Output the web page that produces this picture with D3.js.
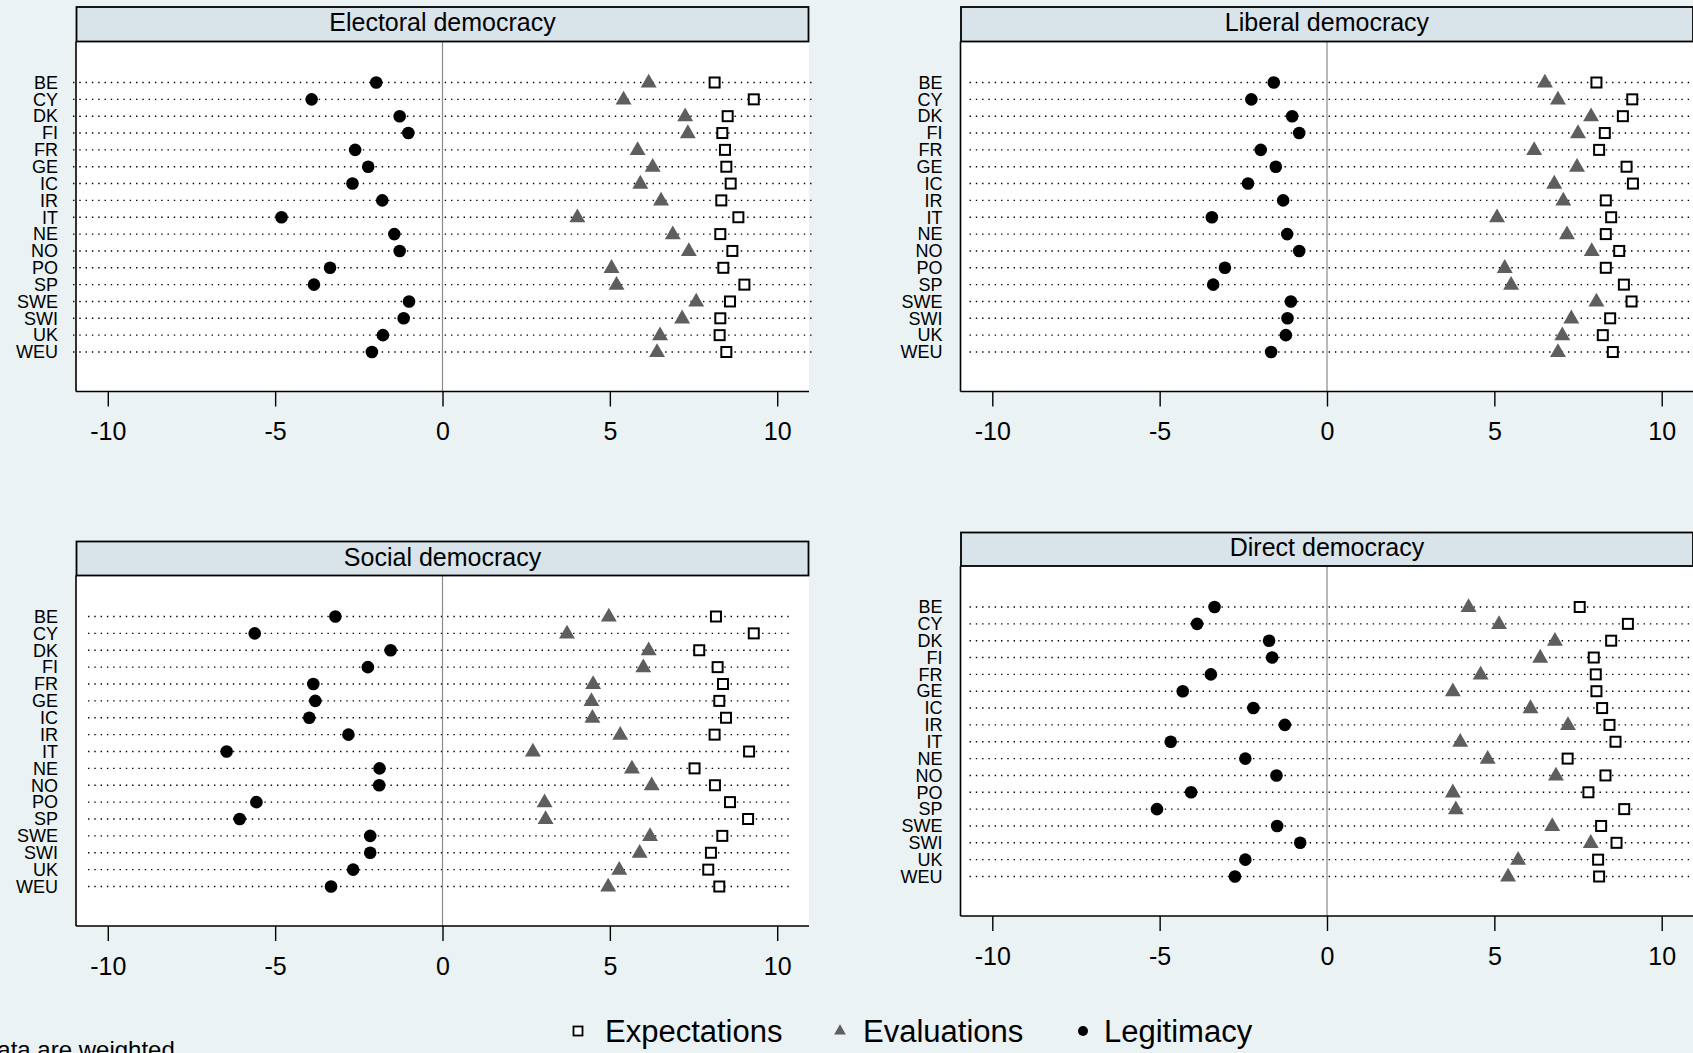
<!DOCTYPE html>
<html>
<head>
<meta charset="utf-8">
<script src="https://cdn.jsdelivr.net/npm/d3@7"></script>
<style>
  html, body { margin: 0; padding: 0; background: #EAF2F3; overflow: hidden; }
  svg { display: block; }
  text { font-family: "Liberation Sans", Arial, Helvetica, sans-serif; fill: #000; }
</style>
</head>
<body>
<svg id="chart" width="1693" height="1053"></svg>
<script>
// ---------------- DATA ----------------
const countries = ["BE","CY","DK","FI","FR","GE","IC","IR","IT","NE","NO","PO","SP","SWE","SWI","UK","WEU"];
const panelTitles = ["Electoral democracy","Liberal democracy","Social democracy","Direct democracy"];
const seriesNames = ["Expectations","Evaluations","Legitimacy"];
const xTickValues = [-10, -5, 0, 5, 10];

const electoralExpectations = [8.13,9.30,8.52,8.36,8.44,8.48,8.61,8.33,8.84,8.30,8.66,8.39,9.02,8.59,8.30,8.28,8.48];
const electoralEvaluations  = [6.16,5.41,7.25,7.33,5.83,6.28,5.91,6.53,4.03,6.88,7.36,5.05,5.20,7.58,7.16,6.50,6.41];
const electoralLegitimacy   = [-1.98,-3.91,-1.28,-1.02,-2.61,-2.22,-2.69,-1.80,-4.81,-1.44,-1.28,-3.36,-3.84,-1.00,-1.16,-1.78,-2.11];

const liberalExpectations = [8.05,9.12,8.84,8.30,8.13,8.95,9.14,8.33,8.49,8.33,8.73,8.33,8.87,9.10,8.46,8.24,8.54];
const liberalEvaluations  = [6.51,6.90,7.89,7.50,6.19,7.47,6.79,7.06,5.08,7.17,7.91,5.31,5.50,8.05,7.30,7.03,6.90];
const liberalLegitimacy   = [-1.59,-2.26,-1.04,-0.83,-1.98,-1.53,-2.36,-1.31,-3.44,-1.19,-0.83,-3.05,-3.40,-1.08,-1.18,-1.23,-1.67];

const socialExpectations = [8.17,9.30,7.67,8.22,8.38,8.27,8.47,8.13,9.16,7.53,8.14,8.59,9.13,8.36,8.02,7.94,8.27];
const socialEvaluations  = [4.97,3.72,6.16,6.00,4.50,4.45,4.48,5.31,2.70,5.66,6.25,3.05,3.08,6.20,5.89,5.28,4.95];
const socialLegitimacy   = [-3.20,-5.61,-1.55,-2.23,-3.86,-3.80,-3.98,-2.81,-6.45,-1.88,-1.89,-5.56,-6.06,-2.16,-2.16,-2.67,-3.33];

const directExpectations = [7.55,8.99,8.49,7.97,8.03,8.05,8.22,8.44,8.62,7.19,8.32,7.81,8.88,8.19,8.65,8.10,8.13];
const directEvaluations  = [4.23,5.14,6.81,6.37,4.59,3.76,6.08,7.20,3.98,4.80,6.84,3.76,3.85,6.73,7.88,5.71,5.41];
const directLegitimacy   = [-3.36,-3.88,-1.73,-1.64,-3.47,-4.31,-2.20,-1.26,-4.67,-2.44,-1.51,-4.06,-5.08,-1.49,-0.80,-2.44,-2.75];

const noteText = "Data are weighted";

// ---------------- LAYOUT ----------------
const panelData = [
  [electoralExpectations, electoralEvaluations, electoralLegitimacy],
  [liberalExpectations, liberalEvaluations, liberalLegitimacy],
  [socialExpectations, socialEvaluations, socialLegitimacy],
  [directExpectations, directEvaluations, directLegitimacy]
];
const panelLayout = [
  { left: 76,    titleTop: 7,     titleBottom: 41.5,  bottom: 391.5, lineFrom: 73,    lineTo: 812 },
  { left: 960.5, titleTop: 7,     titleBottom: 41.5,  bottom: 391.5, lineFrom: 969.5, lineTo: 1693 },
  { left: 76,    titleTop: 541.5, titleBottom: 575.5, bottom: 926,   lineFrom: 88,    lineTo: 790 },
  { left: 960.5, titleTop: 532.5, titleBottom: 566,   bottom: 916,   lineFrom: 969.5, lineTo: 1693 }
];
const panelWidth = 733;
const xDomain = [-10.95, 10.95];

const svg = d3.select("#chart");
svg.append("rect").attr("width", 1693).attr("height", 1053).attr("fill", "#EAF2F3");

function drawPanel(i) {
  const L = panelLayout[i];
  const [expV, evaV, legV] = panelData[i];
  const g = svg.append("g");
  const x = d3.scaleLinear().domain(xDomain).range([L.left, L.left + panelWidth]);
  const y = d3.scalePoint().domain(countries)
    .range([L.titleBottom + 41, L.bottom - 39.5]);

  // plot region
  g.append("rect").attr("x", L.left).attr("y", L.titleBottom)
    .attr("width", panelWidth).attr("height", L.bottom - L.titleBottom)
    .attr("fill", "#fff");

  // dotted category lines
  g.append("g").selectAll("line").data(countries).join("line")
    .attr("x1", L.lineFrom).attr("x2", L.lineTo)
    .attr("y1", d => y(d)).attr("y2", d => y(d))
    .attr("stroke", "#000").attr("stroke-width", 1.4)
    .attr("stroke-dasharray", "1.4 4.9");

  // zero reference line
  g.append("line").attr("x1", x(0)).attr("x2", x(0))
    .attr("y1", L.titleBottom).attr("y2", L.bottom)
    .attr("stroke", "#8a8a8a").attr("stroke-width", 1.2);

  // left border (y axis line)
  g.append("line").attr("x1", L.left).attr("x2", L.left)
    .attr("y1", L.titleBottom).attr("y2", L.bottom)
    .attr("stroke", "#000").attr("stroke-width", 1.6);

  // category labels
  const yAxis = g.append("g").attr("transform", `translate(${L.left},0)`)
    .call(d3.axisLeft(y).tickSize(0).tickPadding(18));
  yAxis.select(".domain").remove();
  yAxis.selectAll("text").attr("font-size", 18)
    .style("font-family", '"Liberation Sans", Arial, sans-serif').attr("fill", "#000");

  // x axis
  const xAxis = g.append("g").attr("transform", `translate(0,${L.bottom})`)
    .call(d3.axisBottom(x).tickValues(xTickValues).tickSize(15).tickPadding(16)
      .tickFormat(d => String(d)));
  xAxis.select(".domain").attr("d", `M${L.left},0H${L.left + panelWidth}`)
    .attr("stroke", "#000").attr("stroke-width", 1.6);
  xAxis.selectAll(".tick line").attr("stroke", "#000").attr("stroke-width", 1.4);
  xAxis.selectAll("text").attr("font-size", 25)
    .style("font-family", '"Liberation Sans", Arial, sans-serif').attr("fill", "#000");

  // title strip
  g.append("rect").attr("x", L.left + 0.5).attr("y", L.titleTop)
    .attr("width", panelWidth - 1).attr("height", L.titleBottom - L.titleTop)
    .attr("fill", "#D8E4E9").attr("stroke", "#000").attr("stroke-width", 1.8);
  g.append("text").attr("x", L.left + panelWidth / 2)
    .attr("y", (L.titleTop + L.titleBottom) / 2 + 7)
    .attr("text-anchor", "middle").attr("font-size", 25).text(panelTitles[i]);

  // markers: legitimacy (circles)
  g.append("g").selectAll("circle").data(countries).join("circle")
    .attr("cx", (d, k) => x(legV[k])).attr("cy", d => y(d)).attr("r", 6.3)
    .attr("fill", "#000");
  // evaluations (triangles)
  const tri = d3.symbol().type(d3.symbolTriangle).size(110);
  g.append("g").selectAll("path").data(countries).join("path")
    .attr("d", tri)
    .attr("transform", (d, k) => `translate(${x(evaV[k])},${y(d) + 0.5})`)
    .attr("fill", "#5E5E5E");
  // expectations (hollow squares)
  g.append("g").selectAll("rect").data(countries).join("rect")
    .attr("x", (d, k) => x(expV[k]) - 5).attr("y", d => y(d) - 5)
    .attr("width", 10).attr("height", 10)
    .attr("fill", "#fff").attr("stroke", "#000").attr("stroke-width", 2);
}

for (let i = 0; i < 4; i++) drawPanel(i);

// ---------------- LEGEND ----------------
const leg = svg.append("g");
const legY = 1031;
const legItems = [
  { sym: "square", mx: 578, tx: 605 },
  { sym: "triangle", mx: 840, tx: 863 },
  { sym: "circle", mx: 1083, tx: 1104 }
];
legItems.forEach((it, k) => {
  if (it.sym === "square") {
    leg.append("rect").attr("x", it.mx - 4.5).attr("y", legY - 4.5)
      .attr("width", 9).attr("height", 9)
      .attr("fill", "#fff").attr("stroke", "#000").attr("stroke-width", 1.8);
  } else if (it.sym === "triangle") {
    leg.append("path").attr("d", d3.symbol().type(d3.symbolTriangle).size(60))
      .attr("transform", `translate(${it.mx},${legY})`).attr("fill", "#5E5E5E");
  } else {
    leg.append("circle").attr("cx", it.mx).attr("cy", legY).attr("r", 5)
      .attr("fill", "#000");
  }
  leg.append("text").attr("x", it.tx).attr("y", legY + 10.5)
    .attr("font-size", 31).text(seriesNames[k]);
});

// note (cropped in the original)
svg.append("text").attr("x", -20).attr("y", 1058).attr("font-size", 24).text(noteText);
</script>
</body>
</html>
